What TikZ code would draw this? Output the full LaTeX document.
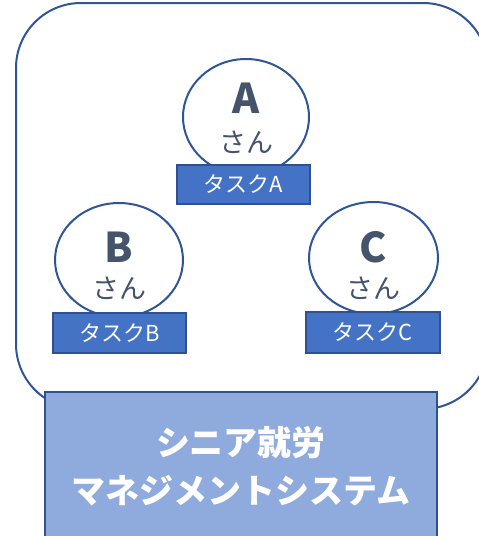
\documentclass[tikz,border=0pt]{standalone}
\usepackage{fontspec}
\setmainfont{Noto Sans CJK JP}
\usetikzlibrary{shapes.geometric}
\definecolor{lineblue}{HTML}{2F5597}
\definecolor{taskfill}{HTML}{4472C4}
\definecolor{taskline}{HTML}{2F528F}
\definecolor{sysfill}{HTML}{8FAADC}
\definecolor{textgray}{HTML}{44546A}
\tikzset{
  person/.style={ellipse, draw=lineblue, fill=white, line width=2, inner sep=0},
  letter/.style={text=textgray, font=\bfseries\fontsize{41}{41}\selectfont, inner sep=0},
  san/.style={text=textgray, font=\fontsize{27}{27}\selectfont, inner sep=0},
  taskbox/.style={draw=taskline, fill=taskfill, line width=2, inner sep=0, text=white,
    font=\fontsize{22}{22}\selectfont},
  sysbox/.style={draw=taskline, fill=sysfill, line width=2, inner sep=0},
  systext/.style={text=white, font=\bfseries\fontsize{34}{48}\selectfont, align=center, inner sep=0}
}
\begin{document}
\begin{tikzpicture}[x=1pt,y=-1pt]
\useasboundingbox (0,0) rectangle (479,536);
\clip (0,0) rectangle (479,536);
\draw[lineblue, line width=2, rounded corners=65] (16,3) rectangle (488,409);
% persons
\node[person, minimum width=126, minimum height=116] (ea) at (246,117) {};
\node[person, minimum width=128, minimum height=114] (eb) at (119,260) {};
\node[person, minimum width=129, minimum height=112] (ec) at (373.5,258) {};
\node[letter] (la) at (246,98) {A};
\node[san] (sa) at (246,142) {さん};
\node[letter] (lb) at (119,247) {B};
\node[san] (sb) at (119,288) {さん};
\node[letter] (lc) at (373.5,247) {C};
\node[san] (sc) at (373.5,288) {さん};
% tasks
\node[taskbox, minimum width=133, minimum height=39] (ta) at (243.5,184.5) {タスクA};
\node[taskbox, minimum width=133, minimum height=40] (tb) at (119.5,333) {タスクB};
\node[taskbox, minimum width=134, minimum height=41] (tc) at (373,332.5) {タスクC};
% system
\node[sysbox, minimum width=392, minimum height=154] (sys) at (241,469) {};
\node[systext] (st) at (241,466) {シニア就労\\マネジメントシステム};
\end{tikzpicture}
\end{document}
